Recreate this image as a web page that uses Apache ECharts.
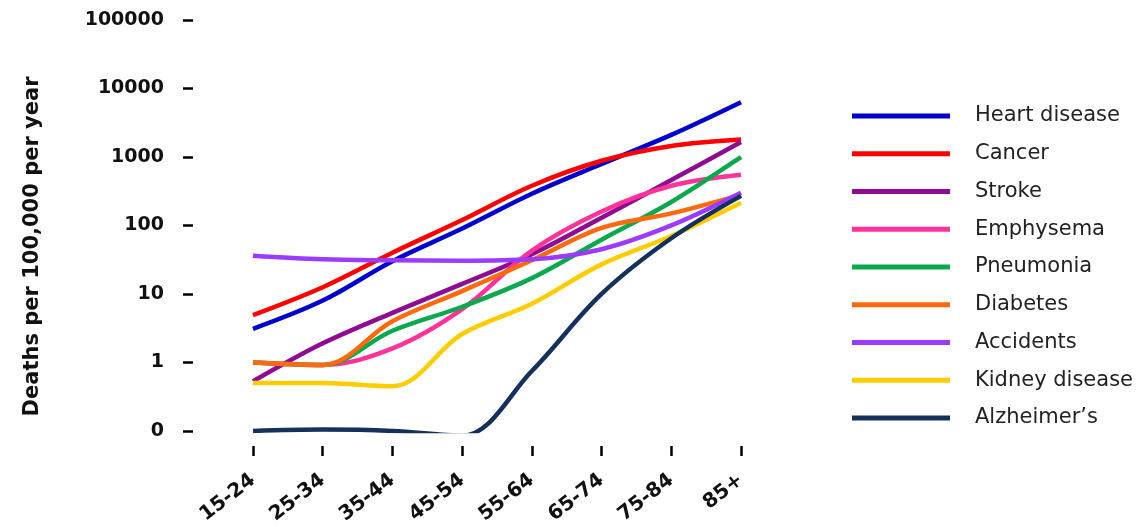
<!DOCTYPE html>
<html>
<head>
<meta charset="utf-8">
<script src="https://cdn.jsdelivr.net/npm/echarts@6/dist/echarts.min.js"></script>
<style>html,body{margin:0;padding:0;background:#fff}#c{width:1147px;height:527px}</style>
</head>
<body>
<div id="c"></div>
<script>
var categories = ['15-24','25-34','35-44','45-54','55-64','65-74','75-84','85+'];
var heartDisease = [3.1, 8, 30, 90, 290, 790, 2100, 6300];
var cancer       = [4.9, 12.5, 40, 120, 380, 880, 1450, 1800];
var stroke       = [0.53, 1.9, 5.3, 14, 38, 130, 460, 1650];
var emphysema    = [1.0, 0.92, 1.6, 6, 43, 160, 380, 550];
var pneumonia    = [1.0, 0.92, 2.9, 6.5, 17, 62, 220, 1000];
var diabetes     = [1.0, 0.92, 4.0, 11, 31, 92, 150, 280];
var accidents    = [36, 32, 31, 30.5, 32, 45, 100, 300];
var kidney       = [0.5, 0.5, 0.45, 2.6, 7.2, 27, 70, 215];
var alzheimers   = [0.1, 0.105, 0.1, 0.085, 0.75, 10, 65, 270];
var yTicks = [0.1, 1, 10, 100, 1000, 10000, 100000];

var seriesDefs = [
  ['Heart disease', heartDisease, '#0000CC'],
  ['Cancer', cancer, '#FF0000'],
  ['Stroke', stroke, '#8E0B92'],
  ['Emphysema', emphysema, '#FF3399'],
  ['Pneumonia', pneumonia, '#0DA84E'],
  ['Diabetes', diabetes, '#FF6A0E'],
  ['Accidents', accidents, '#9B3BFF'],
  ['Kidney disease', kidney, '#FFCC00'],
  ['Alzheimer\u2019s', alzheimers, '#15305A']
];

var chart = echarts.init(document.getElementById('c'), null, {renderer: 'canvas'});
var font = '"DejaVu Sans", "Liberation Sans", Arial, sans-serif';
chart.setOption({
  animation: false,
  backgroundColor: '#fff',
  grid: {left: 253, right: 406, top: 20, bottom: 95},
  legend: {
    orient: 'vertical',
    left: 847, top: 100,
    icon: 'rect',
    itemWidth: 98, itemHeight: 5,
    itemGap: 15.75,
    textStyle: {fontFamily: font, fontSize: 21, color: '#222', padding: [0, 0, 0, 20], lineHeight: 22},
    data: seriesDefs.map(function(d){return d[0];})
  },
  xAxis: {
    type: 'category',
    data: categories,
    boundaryGap: false,
    offset: 15,
    axisLine: {show: false},
    axisTick: {show: true, length: 10, alignWithLabel: true, lineStyle: {color: '#000', width: 2.5}},
    axisLabel: {rotate: 38, margin: 32, fontFamily: font, fontWeight: 'bold', fontSize: 20, color: '#111', interval: 0},
    splitLine: {show: false}
  },
  yAxis: {
    type: 'log',
    logBase: 10,
    min: 0.1,
    max: 100000,
    offset: 60,
    name: 'Deaths per 100,000 per year',
    nameLocation: 'middle',
    nameGap: 150,
    nameTextStyle: {fontFamily: font, fontWeight: 'bold', fontSize: 21, color: '#111', padding: [0, 42, 0, 0]},
    axisLine: {show: false},
    axisTick: {show: true, length: 10, lineStyle: {color: '#000', width: 2.5}},
    axisLabel: {margin: 29, fontFamily: font, fontWeight: 'bold', fontSize: 19, color: '#111',
      formatter: function(v){ return v < 1 ? '0' : String(Math.round(v)); }},
    splitLine: {show: false}
  },
  series: seriesDefs.map(function(d){
    return {
      name: d[0], type: 'line', data: d[1], smooth: 0.35,
      showSymbol: false, symbol: 'none',
      lineStyle: {color: d[2], width: 4.5},
      itemStyle: {color: d[2]},
      z: 2
    };
  })
});
</script>
</body>
</html>
